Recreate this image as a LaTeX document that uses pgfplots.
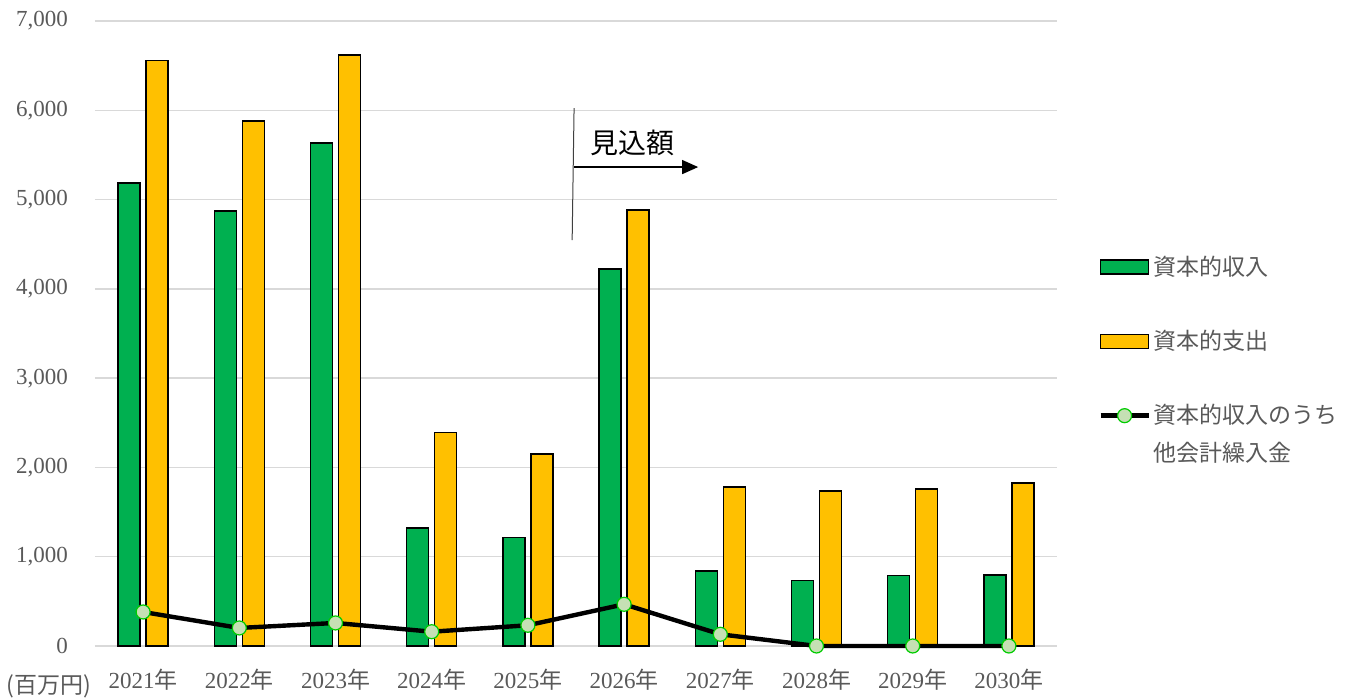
\documentclass[border=0pt]{standalone}
\usepackage{fontspec}
\setmainfont{Liberation Serif}
\newfontfamily\jp{Noto Sans CJK JP}
\usepackage{pgfplots}
\pgfplotsset{compat=1.18}
\usetikzlibrary{arrows.meta}
\definecolor{cgreen}{HTML}{00B050}
\definecolor{cyellow}{HTML}{FFC000}
\definecolor{cgray}{HTML}{595959}
\definecolor{cgrid}{HTML}{D9D9D9}
\definecolor{mkfill}{HTML}{C5E0B4}
\definecolor{mkdraw}{HTML}{00CC00}
\pgfplotsset{
  barleg/.style={legend image code/.code={\draw[##1] (0pt,-3.5pt) rectangle (24pt,3.5pt);}},
  lineleg/.style={legend image code/.code={\draw[##1, mark repeat=2, mark phase=2] plot coordinates {(0pt,0pt)(12pt,0pt)(24pt,0pt)};}},
}
\begin{document}
\begin{tikzpicture}
\begin{axis}[
  scale only axis, width=481pt, height=312.5pt,
  xmin=-0.5, xmax=9.5, ymin=0, ymax=7000,
  xtick={0,...,9},
  xticklabels={2021{\jp 年},2022{\jp 年},2023{\jp 年},2024{\jp 年},2025{\jp 年},2026{\jp 年},2027{\jp 年},2028{\jp 年},2029{\jp 年},2030{\jp 年}},
  ytick={0,1000,...,7000},
  scaled y ticks=false,
  ymajorgrids, grid style={cgrid, line width=0.7pt},
  axis line style={draw=none},
  major tick length=0pt,
  tick label style={font=\fontsize{11.5}{13}\selectfont, text=cgray},
  /pgf/number format/assume math mode=true,
  yticklabel style={/pgf/number format/1000 sep={,}, xshift=-10pt},
  xticklabel style={yshift=-8pt},
  clip=false,
  legend cell align=left,
  legend style={at={(rel axis cs:1.0426,0.63)}, anchor=north west, draw=none, fill=none,
    inner sep=0pt, font=\jp\fontsize{11.5}{19}\selectfont, text=cgray, row sep=23pt,
    nodes={inner sep=1.5pt}},
]
\addplot[ybar, bar width=11pt, bar shift=-7pt, fill=cgreen, draw=black, line width=0.7pt, barleg]
  coordinates {(0,5185) (1,4871) (2,5633) (3,1323) (4,1213) (5,4222) (6,838) (7,733) (8,790) (9,795)};
\addlegendentry{資本的収入}
\addplot[ybar, bar width=11pt, bar shift=7pt, fill=cyellow, draw=black, line width=0.7pt, barleg]
  coordinates {(0,6555) (1,5879) (2,6618) (3,2392) (4,2150) (5,4882) (6,1780) (7,1734) (8,1758) (9,1825)};
\addlegendentry{資本的支出}
\addplot[black, line width=2.2pt, mark=*, mark size=3.5pt,
  mark options={fill=mkfill, draw=mkdraw, line width=0.6pt}, lineleg]
  coordinates {(0,381) (1,202) (2,258) (3,160) (4,232) (5,467) (6,131) (7,0) (8,0) (9,0)};
\addlegendentry{\vtop{\hbox{資本的収入のうち}\hbox{他会計繰入金}}}
\draw[black!75, line width=0.5pt] (axis cs:4.48,6025) -- (axis cs:4.46,4547);
\draw[black, line width=0.6pt, -{Triangle[length=8pt,width=7pt]}] (axis cs:4.48,5364) -- (axis cs:5.77,5364);
\node[font=\jp\fontsize{14}{16}\selectfont, text=black] at (axis cs:5.09,5633) {見込額};
\node[font=\jp\fontsize{11.5}{13}\selectfont, text=cgray, xshift=-23pt, yshift=-20pt] at (rel axis cs:0,0) {(百万円)};
\end{axis}
\pgfresetboundingbox
\path[use as bounding box] (-47.5pt,-26.5pt) rectangle (627.5pt,323pt);
\end{tikzpicture}
\end{document}
